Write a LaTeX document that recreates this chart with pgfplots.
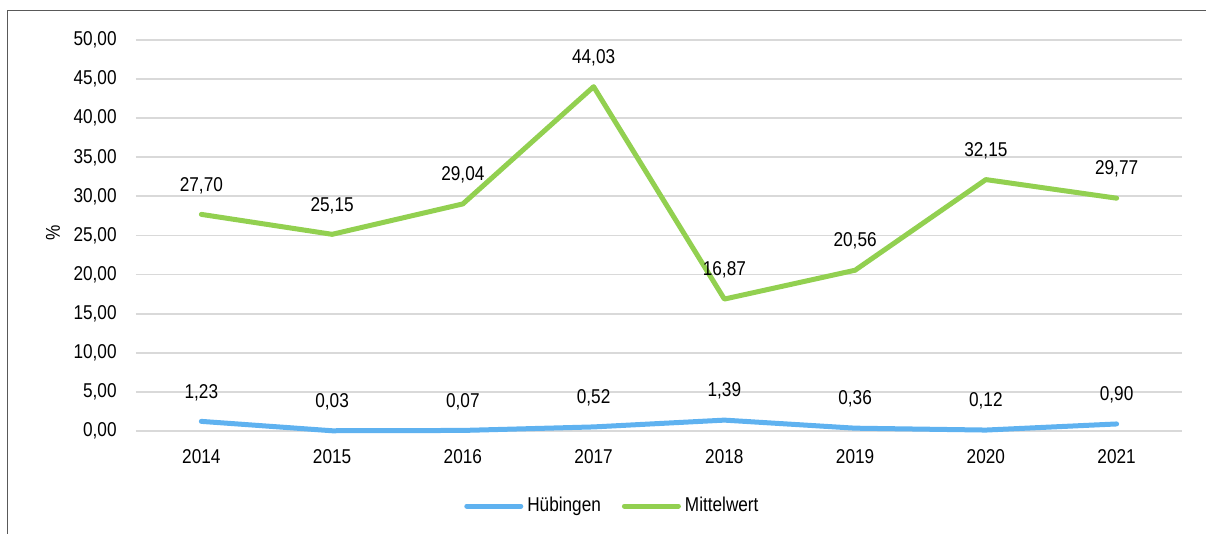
\documentclass[border=0pt]{standalone}
\usepackage{fontspec}
\setmainfont{Liberation Sans}[FakeStretch=0.86]
\usepackage{pgfplots}
\pgfplotsset{compat=1.18}
\definecolor{hblue}{RGB}{95,178,240}
\definecolor{mgreen}{RGB}{146,208,80}
\definecolor{gridc}{RGB}{217,217,217}
\definecolor{framec}{RGB}{89,89,89}
\begin{document}
\fontsize{10}{12}\selectfont
\begin{tikzpicture}
\useasboundingbox (0,0) rectangle (603pt,267pt);
\draw[framec, line width=0.75pt] (3.65pt,-5pt) -- (3.65pt,261.75pt) -- (610pt,261.75pt);
\begin{axis}[
  at={(68pt,51.5pt)}, anchor=south west,
  scale only axis, width=523pt, height=195.5pt,
  xmin=-0.5, xmax=7.5, ymin=0, ymax=50,
  ytick={0,5,...,50},
  xtick=data,
  xticklabels={2014,2015,2016,2017,2018,2019,2020,2021},
  major tick length=0pt,
  axis line style={draw=none},
  ymajorgrids, grid style={gridc, line width=0.9pt},
  /pgf/number format/.cd, fixed, fixed zerofill, precision=2, use comma, assume math mode=true,
  /pgfplots/.cd,
  yticklabel style={anchor=east, inner sep=0pt, xshift=-9.5pt, font=\fontsize{10}{12}\selectfont},
  xticklabel style={anchor=center, inner sep=0pt, yshift=-13pt, font=\fontsize{10}{12}\selectfont},
  ylabel={\%},
  ylabel style={at={(axis description cs:-0.0793,0.506)}, anchor=center, font=\fontsize{10}{12}\selectfont},
  clip=false,
  nodes near coords,
  every node near coord/.append style={anchor=center, yshift=14.5pt, inner sep=0pt, font=\fontsize{10}{12}\selectfont, text=black},
  legend columns=2,
  legend style={draw=none, at={(axis description cs:0.4564,-0.192)}, anchor=center, font=\fontsize{10}{12}\selectfont,
    /tikz/every even column/.append style={column sep=8.5pt}},
  legend image code/.code={\draw[#1, line width=2.5pt, line cap=round] (0pt,0pt) -- (27pt,0pt);},
]
\addplot[hblue, line width=2.5pt, line join=round, line cap=round] coordinates {
(0,1.23) (1,0.03) (2,0.07) (3,0.52) (4,1.39) (5,0.36) (6,0.12) (7,0.90)};
\addlegendentry{Hübingen}
\addplot[mgreen, line width=2.5pt, line join=round, line cap=round] coordinates {
(0,27.70) (1,25.15) (2,29.04) (3,44.03) (4,16.87) (5,20.56) (6,32.15) (7,29.77)};
\addlegendentry{Mittelwert}
\end{axis}
\end{tikzpicture}
\end{document}
